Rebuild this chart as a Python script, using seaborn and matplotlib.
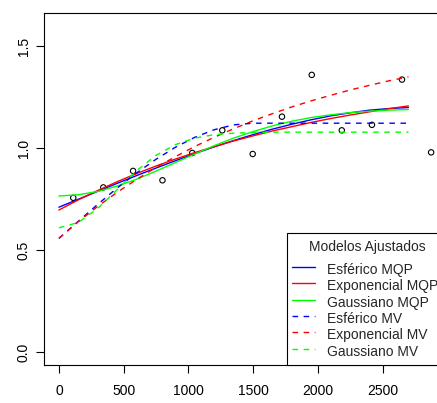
import matplotlib
matplotlib.use("Agg")
import matplotlib.pyplot as plt
import seaborn as sns
from matplotlib.lines import Line2D
from matplotlib.patches import Rectangle

# Semivariograma empírico (distância média do lag, semivariância)
lag_dist = [111, 343, 573, 800, 1030, 1262, 1497, 1723, 1953, 2185, 2418, 2650, 2875]
semivar = [0.756, 0.807, 0.888, 0.842, 0.976, 1.087, 0.971, 1.154, 1.359, 1.087, 1.114, 1.336, 0.979]

# Distâncias em que os modelos ajustados foram avaliados
h_model = [0, 150, 300, 450, 600, 750, 900, 1050, 1200, 1350,
           1500, 1650, 1800, 1950, 2100, 2250, 2400, 2550, 2700]

# Semivariâncias dos modelos ajustados
esf_mqp = [0.710, 0.749, 0.788, 0.827, 0.865, 0.902, 0.938, 0.973, 1.006, 1.037,
           1.066, 1.093, 1.117, 1.139, 1.158, 1.173, 1.186, 1.194, 1.199]
exp_mqp = [0.696, 0.746, 0.792, 0.835, 0.875, 0.912, 0.946, 0.978, 1.007, 1.035,
           1.060, 1.084, 1.105, 1.126, 1.145, 1.162, 1.178, 1.193, 1.207]
gau_mqp = [0.765, 0.771, 0.787, 0.814, 0.847, 0.887, 0.929, 0.971, 1.012, 1.049,
           1.081, 1.109, 1.132, 1.150, 1.163, 1.174, 1.181, 1.186, 1.189]
esf_mv = [0.557, 0.641, 0.724, 0.804, 0.878, 0.945, 1.004, 1.053, 1.090, 1.114,
          1.122, 1.122, 1.122, 1.122, 1.122, 1.122, 1.122, 1.122, 1.122]
exp_mv = [0.557, 0.639, 0.714, 0.783, 0.846, 0.905, 0.958, 1.008, 1.053, 1.095,
          1.134, 1.169, 1.202, 1.232, 1.259, 1.285, 1.308, 1.330, 1.349]
gau_mv = [0.609, 0.635, 0.704, 0.796, 0.889, 0.964, 1.017, 1.049, 1.066, 1.073,
          1.076, 1.078, 1.078, 1.078, 1.078, 1.078, 1.078, 1.078, 1.078]

model_names = ["Esférico MQP", "Exponencial MQP", "Gaussiano MQP",
               "Esférico MV", "Exponencial MV", "Gaussiano MV"]
model_values = [esf_mqp, exp_mqp, gau_mqp, esf_mv, exp_mv, gau_mv]

x_ticks = [0, 500, 1000, 1500, 2000, 2500]
y_ticks = [0.0, 0.5, 1.0, 1.5]
y_tick_labels = ["0.0", "0.5", "1.0", "1.5"]
legend_title = "Modelos Ajustados"

# Estilos
model_colors = ["#0000FF", "#FF0000", "#00FF00", "#0000FF", "#FF0000", "#00FF00"]
model_styles = ["-", "-", "-", (0, (4, 4)), (0, (4, 4)), (0, (4, 4))]

sns.set_style("white")
plt.rcParams["font.family"] = ["Liberation Sans", "DejaVu Sans"]
plt.rcParams["font.size"] = 10

W, H = 437, 403
fig = plt.figure(figsize=(W / 100, H / 100), dpi=100)
ax_l, ax_r, ax_t, ax_b = 44, 446, 12.7, 365
ax = fig.add_axes([ax_l / W, 1 - ax_b / H, (ax_r - ax_l) / W, (ax_b - ax_t) / H])

sns.scatterplot(x=lag_dist, y=semivar, ax=ax, marker="o", s=15,
                facecolors="none", edgecolor="black", linewidth=0.8, zorder=3)

for vals, col, ls in zip(model_values, model_colors, model_styles):
    sns.lineplot(x=h_model, y=vals, ax=ax, color=col, linestyle=ls,
                 linewidth=1.0, sort=False, estimator=None, legend=False, zorder=4)

ax.set_xlim(-115, 2990)
ax.set_ylim(-0.064, 1.664)
ax.set_xticks(x_ticks)
ax.set_xticklabels([str(t) for t in x_ticks])
ax.set_yticks(y_ticks)
ax.set_yticklabels(y_tick_labels, rotation=90, va="center")
ax.set_xlabel("")
ax.set_ylabel("")

for sp in ax.spines.values():
    sp.set_visible(True)
    sp.set_color("black")
    sp.set_linewidth(0.8)

ax.tick_params(axis="both", which="major", direction="out", length=5.5, width=0.8,
               color="black", labelsize=10, labelcolor="black",
               bottom=True, left=True, top=False, right=False)
ax.tick_params(axis="x", pad=8.5)
ax.tick_params(axis="y", pad=4.0)


# Legenda desenhada em coordenadas de pixel da área do gráfico
def fx(px):
    return (px - ax_l) / (ax_r - ax_l)


def fy(py):
    return (ax_b - py) / (ax_b - ax_t)


leg_left, leg_top = 287.3, 233.3
ax.add_patch(Rectangle((fx(leg_left), 0), 1 - fx(leg_left), fy(leg_top),
                       transform=ax.transAxes, facecolor="white",
                       edgecolor="black", linewidth=0.8, zorder=10, clip_on=False))
ax.text(fx(367.5), fy(251.5), legend_title, transform=ax.transAxes,
        ha="center", va="baseline", fontsize=10, zorder=11)
for i, (name, col, ls) in enumerate(zip(model_names, model_colors, model_styles)):
    base = 274.0 + 16.3 * i
    ly = fy(base - 7.0)
    ax.add_line(Line2D([fx(291.7), fx(315.0)], [ly, ly], transform=ax.transAxes,
                       color=col, linestyle=ls, linewidth=1.0, zorder=11))
    ax.text(fx(327.3), fy(base), name, transform=ax.transAxes,
            ha="left", va="baseline", fontsize=10, zorder=11)

fig.savefig("out.png", dpi=100)
